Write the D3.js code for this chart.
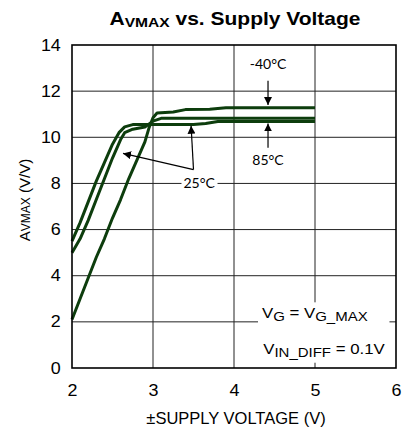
<!DOCTYPE html>
<html lang="en">
<head>
    <meta charset="UTF-8">
    <title>AVMAX vs. Supply Voltage</title>
    <style>
        body {
            margin: 0;
            background: white;
        }
        svg text {
            font-family: "Liberation Sans", Arial, sans-serif;
            fill: black;
        }
        .grid line {
            stroke: #222;
            stroke-width: 1;
        }
        .curve {
            fill: none;
            stroke: #0d3d0d;
            stroke-width: 3;
            stroke-linejoin: round;
        }
        .note {
            font-family: Lato, "Open Sans", sans-serif !important;
            font-size: 14px;
        }
    </style>
</head>
<body>
    <svg width="403" height="429" id="chart"></svg>

    <script src="https://d3js.org/d3.v7.min.js"></script>
    <script>
        // values
        const xTicks = [2, 3, 4, 5, 6];
        const yTicks = [0, 2, 4, 6, 8, 10, 12, 14];

        // -40°C, highest plateau, starts lowest
        const curveCold = [[2.0, 2.1], [2.1, 3.0], [2.2, 3.9], [2.3, 4.8], [2.4, 5.6], [2.5, 6.5],
            [2.6, 7.3], [2.7, 8.2], [2.8, 9.0], [2.9, 9.8], [2.95, 10.4], [3.0, 10.85], [3.05, 11.05],
            [3.25, 11.1], [3.4, 11.2], [3.7, 11.22], [3.9, 11.28], [5.0, 11.28]];
        // middle plateau
        const curveMid = [[2.0, 5.0], [2.1, 5.6], [2.2, 6.4], [2.3, 7.3], [2.4, 8.2], [2.5, 9.1],
            [2.6, 9.9], [2.65, 10.2], [2.75, 10.35], [2.9, 10.45], [3.0, 10.7], [3.1, 10.82], [5.0, 10.82]];
        // lowest plateau, starts highest
        const curveHot = [[2.0, 5.5], [2.1, 6.3], [2.2, 7.2], [2.3, 8.1], [2.4, 8.9], [2.5, 9.7],
            [2.58, 10.2], [2.65, 10.45], [2.75, 10.55], [3.5, 10.55], [3.65, 10.6], [3.8, 10.68], [5.0, 10.68]];

        const curves = [curveCold, curveMid, curveHot];

        // arrow annotations: [from, to] in data units
        const arrows = [
            [[4.42, 12.45], [4.42, 11.4]],   // -40°C
            [[4.42, 9.55], [4.42, 10.6]],    // 85°C
            [[3.5, 8.6], [2.63, 9.3]],       // 25°C left
            [[3.5, 8.6], [3.47, 10.5]]       // 25°C right
        ];
        const labels = [
            { text: "-40°C", x: 4.42, y: 13.1 },
            { text: "85°C", x: 4.42, y: 8.95 },
            { text: "25°C", x: 3.57, y: 7.95 }
        ];

        const svg = d3.select("#chart");
        const margin = { left: 72, right: 7, top: 45, bottom: 61 };
        const width = 403 - margin.left - margin.right;
        const height = 429 - margin.top - margin.bottom;
        const stretch = 1.2;   // the source text is drawn a bit wide

        const x = d3.scaleLinear().domain([2, 6]).range([margin.left, margin.left + width]);
        const y = d3.scaleLinear().domain([0, 14]).range([margin.top + height, margin.top]);

        // arrowhead
        svg.append("defs").append("marker")
            .attr("id", "head")
            .attr("viewBox", "0 0 10 10")
            .attr("refX", 10).attr("refY", 5)
            .attr("markerWidth", 8).attr("markerHeight", 8)
            .attr("markerUnits", "userSpaceOnUse")
            .attr("orient", "auto")
            .append("path")
            .attr("d", "M0,0 L10,5 L0,10 Z")
            .attr("fill", "black");

        // grid
        const grid = svg.append("g").attr("class", "grid");
        grid.selectAll(".vx")
            .data(xTicks.slice(1, -1))
            .enter().append("line")
            .attr("x1", d => x(d)).attr("x2", d => x(d))
            .attr("y1", y(0)).attr("y2", y(14));
        grid.selectAll(".hy")
            .data(yTicks.slice(1, -1))
            .enter().append("line")
            .attr("x1", x(2)).attr("x2", x(6))
            .attr("y1", d => y(d)).attr("y2", d => y(d));

        // curves
        const line = d3.line().x(d => x(d[0])).y(d => y(d[1]));
        svg.selectAll(".curve")
            .data(curves)
            .enter().append("path")
            .attr("class", "curve")
            .attr("d", line);

        // frame
        svg.append("rect")
            .attr("x", x(2)).attr("y", y(14))
            .attr("width", x(6) - x(2)).attr("height", y(0) - y(14))
            .attr("fill", "none").attr("stroke", "black").attr("stroke-width", 1.6);

        // axes (labels only)
        const xAxis = svg.append("g")
            .attr("transform", `translate(0,${y(0)})`)
            .call(d3.axisBottom(x).tickValues(xTicks).tickFormat(d3.format("d")).tickSize(0).tickPadding(17));
        const yAxis = svg.append("g")
            .attr("transform", `translate(${x(2)},0)`)
            .call(d3.axisLeft(y).tickValues(yTicks).tickFormat(d3.format("d")).tickSize(0).tickPadding(10));
        [xAxis, yAxis].forEach(a => {
            a.select(".domain").remove();
            a.selectAll("text")
                .style("font-size", "16px")
                .style("font-family", "Liberation Sans, Arial, sans-serif")
                .attr("transform", "scale(1.12,1)");
        });

        // arrows
        svg.selectAll(".arrow")
            .data(arrows)
            .enter().append("line")
            .attr("x1", d => x(d[0][0])).attr("y1", d => y(d[0][1]))
            .attr("x2", d => x(d[1][0])).attr("y2", d => y(d[1][1]))
            .attr("stroke", "black").attr("stroke-width", 1.2)
            .attr("marker-end", "url(#head)");

        // temperature labels with white backing
        labels.forEach(l => {
            const t = svg.append("text")
                .attr("class", "note")
                .attr("x", x(l.x)).attr("y", y(l.y))
                .attr("text-anchor", "middle")
                .attr("dominant-baseline", "middle")
                .text(l.text);
            const b = t.node().getBBox();
            svg.insert("rect", () => t.node())
                .attr("x", b.x - 2).attr("y", b.y).attr("width", b.width + 4).attr("height", b.height)
                .attr("fill", "white");
        });

        // condition box
        const cond = svg.append("g");
        const condText = cond.append("g").attr("transform", `translate(262,0) scale(${stretch},1)`);
        const c1 = condText.append("text").attr("x", 0).attr("y", 318).style("font-size", "14px");
        c1.append("tspan").text("V");
        c1.append("tspan").attr("dy", 3).style("font-size", "12.5px").text("G");
        c1.append("tspan").attr("dy", -3).text(" = V");
        c1.append("tspan").attr("dy", 3).style("font-size", "12.5px").text("G_MAX");
        const c2 = condText.append("text").attr("x", 1).attr("y", 354).style("font-size", "14px");
        c2.append("tspan").text("V");
        c2.append("tspan").attr("dy", 3).style("font-size", "12.5px").text("IN_DIFF");
        c2.append("tspan").attr("dy", -3).text(" = 0.1V");
        const cb = cond.node().getBBox();
        cond.insert("rect", ":first-child")
            .attr("x", cb.x - 4).attr("y", cb.y - 3)
            .attr("width", cb.width + 8).attr("height", cb.height + 6)
            .attr("fill", "white");

        // title
        const title = svg.append("text")
            .attr("transform", `translate(235,25) scale(${stretch},1)`)
            .attr("text-anchor", "middle")
            .style("font-size", "17.5px").style("font-weight", "bold");
        title.append("tspan").text("A");
        title.append("tspan").style("font-size", "13px").attr("dy", 2).text("VMAX");
        title.append("tspan").attr("dy", -2).text(" vs. Supply Voltage");

        // axis titles
        svg.append("text")
            .attr("x", 236).attr("y", 424)
            .attr("text-anchor", "middle")
            .style("font-size", "16.5px")
            .text("±SUPPLY VOLTAGE (V)");

        const yl = svg.append("text")
            .attr("transform", `translate(30,200) rotate(-90)`)
            .attr("text-anchor", "middle")
            .style("font-size", "15px");
        yl.append("tspan").text("A");
        yl.append("tspan").style("font-size", "12px").text("VMAX");
        yl.append("tspan").text(" (V/V)");
    </script>
</body>
</html>
